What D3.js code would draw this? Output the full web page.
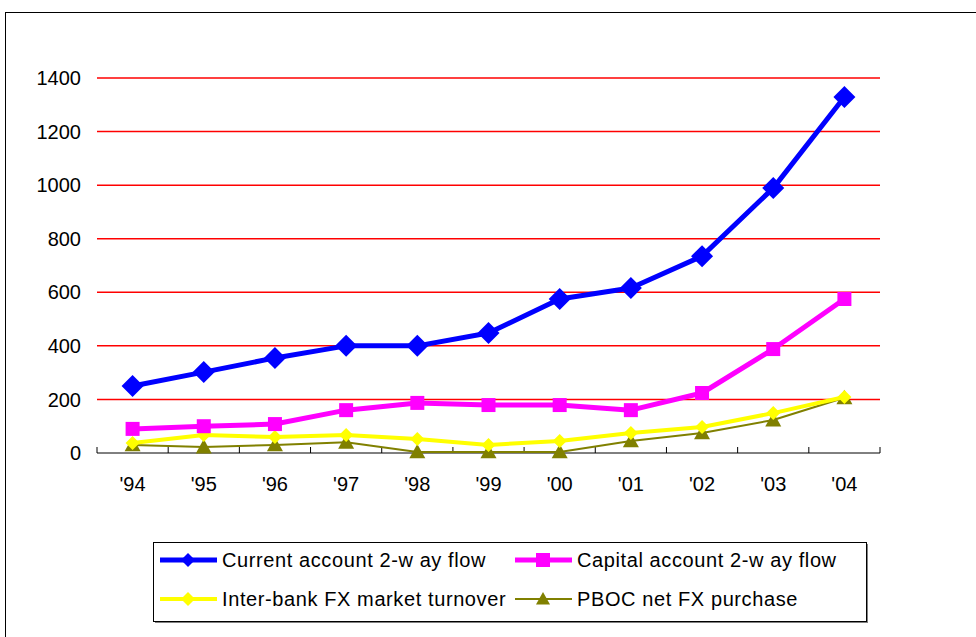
<!DOCTYPE html>
<html>
<head>
<meta charset="utf-8">
<script src="https://cdn.jsdelivr.net/npm/d3@7"></script>
<style>
body { margin: 0; background: #fff; }
svg { font-family: "Liberation Sans", Arial, sans-serif; }
</style>
</head>
<body>
<svg width="976" height="637"></svg>
<script>
const years = ["'94","'95","'96","'97","'98","'99","'00","'01","'02","'03","'04"];
const currentAcc = [250, 302, 355, 400, 400, 448, 575, 616, 735, 989, 1329];
const capitalAcc = [90, 100, 108, 160, 187, 179, 179, 160, 224, 388, 575];
const interbank = [37, 67, 60, 67, 52, 30, 45, 75, 97, 149, 209];
const pboc = [30, 22, 30, 40, 4, 4, 4, 45, 75, 123, 206];
const yTicks = [0, 200, 400, 600, 800, 1000, 1200, 1400];

const series = [
  {name: 'Current account 2-w ay flow', values: currentAcc, color: '#0000ff', width: 5, shape: 'diamond', size: 11},
  {name: 'Capital account 2-w ay flow', values: capitalAcc, color: '#ff00ff', width: 5, shape: 'square', size: 7},
  {name: 'Inter-bank FX market turnover', values: interbank, color: '#ffff00', width: 4, shape: 'diamond', size: 7},
  {name: 'PBOC net FX purchase', values: pboc, color: '#808000', width: 2, shape: 'triangle', size: 8}
];

const svg = d3.select('svg');

// chart frame
svg.append('rect')
  .attr('x', 5.5).attr('y', 12.5)
  .attr('width', 1000).attr('height', 700)
  .attr('fill', 'none').attr('stroke', '#000').attr('stroke-width', 1);

const plotL = 97, plotR = 880, plotT = 78, plotB = 453;

const x = d3.scaleBand().domain(years).range([plotL, plotR]);
const y = d3.scaleLinear().domain([0, 1400]).range([plotB, plotT]);

// gridlines
svg.append('g')
  .selectAll('line')
  .data(yTicks.filter(d => d > 0))
  .join('line')
  .attr('x1', plotL).attr('x2', plotR)
  .attr('y1', d => y(d)).attr('y2', d => y(d))
  .attr('stroke', '#ff0000').attr('stroke-width', 1.5);

// y labels
svg.append('g')
  .selectAll('text')
  .data(yTicks)
  .join('text')
  .attr('x', 81).attr('y', d => y(d))
  .attr('dy', '0.36em')
  .attr('text-anchor', 'end')
  .style('font-size', '20px')
  .text(d => d);

// x axis
const xAxis = svg.append('g');
xAxis.append('line')
  .attr('x1', plotL).attr('x2', plotR)
  .attr('y1', plotB).attr('y2', plotB)
  .attr('stroke', '#000');
xAxis.selectAll('line.tick')
  .data(d3.range(years.length + 1))
  .join('line')
  .attr('class', 'tick')
  .attr('x1', i => plotL + i * x.step()).attr('x2', i => plotL + i * x.step())
  .attr('y1', plotB).attr('y2', plotB - 6)
  .attr('stroke', '#000');
xAxis.selectAll('text')
  .data(years)
  .join('text')
  .attr('x', d => x(d) + x.bandwidth() / 2)
  .attr('y', 491)
  .attr('text-anchor', 'middle')
  .style('font-size', '20px')
  .text(d => d);

function markerPath(shape, s) {
  if (shape === 'diamond') return `M0,${-s}L${s},0L0,${s}L${-s},0Z`;
  if (shape === 'square') return `M${-s},${-s}H${s}V${s}H${-s}Z`;
  return `M0,${-s}L${s},${s * 0.8}L${-s},${s * 0.8}Z`;
}

const line = d3.line()
  .x((d, i) => x(years[i]) + x.bandwidth() / 2)
  .y(d => y(d));

// draw back to front so current account sits on top
series.slice().reverse().forEach(s => {
  const g = svg.append('g');
  g.append('path')
    .attr('d', line(s.values))
    .attr('fill', 'none')
    .attr('stroke', s.color)
    .attr('stroke-width', s.width)
    .attr('stroke-linejoin', 'round');
  g.selectAll('path.m')
    .data(s.values)
    .join('path')
    .attr('class', 'm')
    .attr('transform', (d, i) => `translate(${x(years[i]) + x.bandwidth() / 2},${y(d)})`)
    .attr('d', markerPath(s.shape, s.size))
    .attr('fill', s.color);
});

// legend
const legend = svg.append('g');
legend.append('rect')
  .attr('x', 155).attr('y', 544)
  .attr('width', 713).attr('height', 79)
  .attr('fill', '#808080');
legend.append('rect')
  .attr('x', 153.5).attr('y', 542.5)
  .attr('width', 713).attr('height', 79)
  .attr('fill', '#fff').attr('stroke', '#000');
const legPos = [[160, 560], [515, 560], [160, 599], [515, 599]];
series.forEach((s, i) => {
  const [lx, ly] = legPos[i];
  legend.append('line')
    .attr('x1', lx).attr('x2', lx + 57)
    .attr('y1', ly).attr('y2', ly)
    .attr('stroke', s.color).attr('stroke-width', s.width);
  legend.append('path')
    .attr('transform', `translate(${lx + 28},${ly})`)
    .attr('d', markerPath(s.shape, Math.min(s.size, 7)))
    .attr('fill', s.color);
  legend.append('text')
    .attr('x', lx + 62).attr('y', ly)
    .attr('dy', '0.36em')
    .style('font-size', '20px')
    .style('letter-spacing', '0.6px')
    .text(s.name);
});
</script>
</body>
</html>
